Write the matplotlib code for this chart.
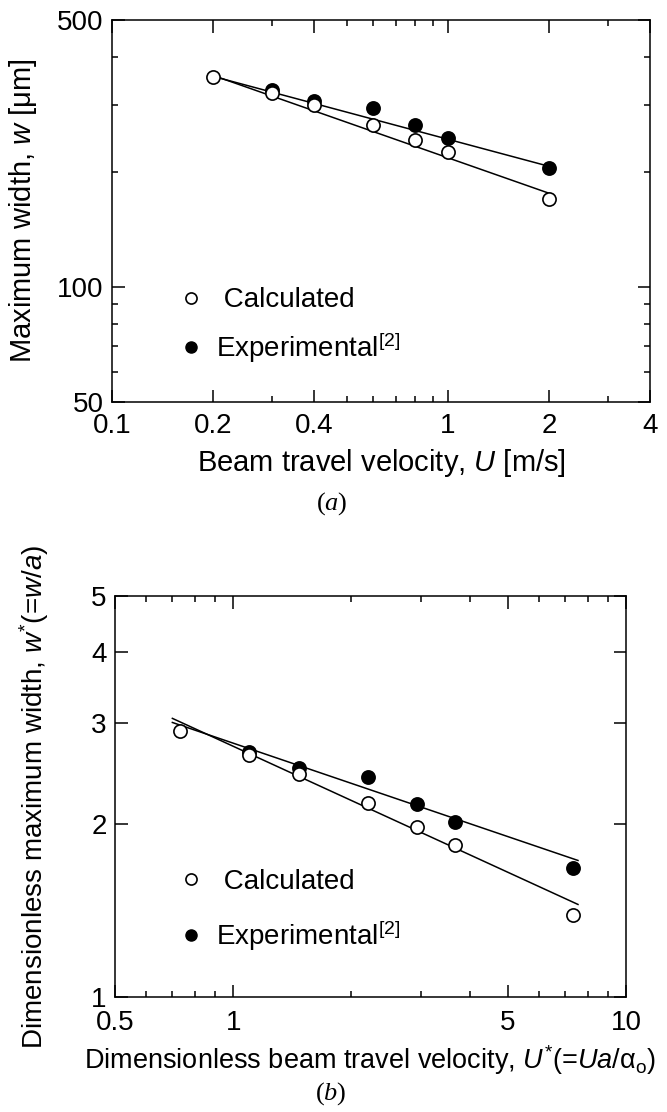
import matplotlib
matplotlib.use('Agg')
import matplotlib.pyplot as plt
from matplotlib.lines import Line2D
from matplotlib.ticker import FixedLocator, FixedFormatter, NullFormatter

# (a) dimensional results
u = [0.2, 0.3, 0.4, 0.6, 0.8, 1.0, 2.0]
w_calc = [355, 323, 299, 265, 242, 225, 170]
u_exp = [0.3, 0.4, 0.6, 0.8, 1.0, 2.0]
w_exp = [327, 307, 295, 265, 246, 205]
u_fit = [0.2, 2.0]
w_fit_calc = [358, 176]
w_fit_exp = [356, 207]

# (b) dimensionless results
us = [0.734, 1.10, 1.47, 2.20, 2.94, 3.67, 7.34]
ws_calc = [2.91, 2.64, 2.45, 2.18, 1.98, 1.84, 1.39]
us_exp = [1.10, 1.47, 2.20, 2.94, 3.67, 7.34]
ws_exp = [2.67, 2.51, 2.42, 2.17, 2.02, 1.68]
us_fit = [0.70, 7.55]
ws_fit_calc = [3.06, 1.45]
ws_fit_exp = [3.01, 1.73]

# ticks
xmajor_a = [0.1, 0.2, 0.4, 1, 2, 4]
xlabels_a = ['0.1', '0.2', '0.4', '1', '2', '4']
xminor_a = [0.3, 0.5, 0.6, 0.7, 0.8, 0.9, 3]
ymajor_a = [50, 100, 500]
ylabels_a = ['50', '100', '500']
yminor_a = [60, 70, 80, 90, 200, 300, 400]
xmajor_b = [0.5, 1, 5, 10]
xlabels_b = ['0.5', '1', '5', '10']
xminor_b = [0.6, 0.7, 0.8, 0.9, 2, 3, 4, 6, 7, 8, 9]
ymajor_b = [1, 2, 3, 4, 5]
ylabels_b = ['1', '2', '3', '4', '5']

plt.rcParams['font.family'] = ['Liberation Sans', 'DejaVu Sans']
plt.rcParams['mathtext.fontset'] = 'custom'
plt.rcParams['mathtext.rm'] = 'Liberation Sans'
plt.rcParams['mathtext.it'] = 'Liberation Sans:italic'
plt.rcParams['mathtext.bf'] = 'Liberation Serif:italic'
plt.rcParams['axes.linewidth'] = 1.1

FS = 20


def style(ax, xmaj, xlab, xmin, ymaj, ylab, ymin, xpad):
    ax.set_xscale('log')
    ax.set_yscale('log')
    ax.xaxis.set_major_locator(FixedLocator(xmaj))
    ax.xaxis.set_major_formatter(FixedFormatter(xlab))
    ax.xaxis.set_minor_locator(FixedLocator(xmin))
    ax.xaxis.set_minor_formatter(NullFormatter())
    ax.yaxis.set_major_locator(FixedLocator(ymaj))
    ax.yaxis.set_major_formatter(FixedFormatter(ylab))
    ax.yaxis.set_minor_locator(FixedLocator(ymin))
    ax.yaxis.set_minor_formatter(NullFormatter())
    ax.tick_params(which='both', direction='in', top=True, right=True,
                   labelsize=FS, width=1.1)
    ax.tick_params(which='major', length=9)
    ax.tick_params(which='minor', length=4.5)
    ax.tick_params(axis='x', which='major', pad=xpad)
    ax.tick_params(axis='y', which='major', pad=6)


def draw(ax, x, yc, xe, ye, xf, yfc, yfe):
    ax.plot(xf, yfc, color='black', lw=1.1)
    ax.plot(xf, yfe, color='black', lw=1.1)
    ax.plot(xe, ye, 'o', ms=9.5, mfc='black', mec='black', mew=1.2)
    ax.plot(x, yc, 'o', ms=9.5, mfc='white', mec='black', mew=1.2)


def legend(ax, anchor, spacing):
    h = [Line2D([], [], ls='none', marker='o', ms=8, mfc='white', mec='black', mew=1.2),
         Line2D([], [], ls='none', marker='o', ms=8, mfc='black', mec='black')]
    ax.legend(h, [' Calculated', r'Experimental$^{[2]}$'], loc='upper left',
              bbox_to_anchor=anchor, frameon=False, fontsize=FS,
              handlelength=0.6, handletextpad=0.6, labelspacing=spacing,
              borderaxespad=0, borderpad=0)


fig = plt.figure(figsize=(6.67, 11.12), dpi=100)

ax1 = fig.add_axes([0.168, 0.6385, 0.8066, 0.3435])
draw(ax1, u, w_calc, u_exp, w_exp, u_fit, w_fit_calc, w_fit_exp)
style(ax1, xmajor_a, xlabels_a, xminor_a, ymajor_a, ylabels_a, yminor_a, 8)
ax1.set_xlim(0.1, 4)
ax1.set_ylim(50, 500)
ax1.set_xlabel(r'Beam travel velocity, $U$ [m/s]', fontsize=21, labelpad=6)
ax1.set_ylabel(r'Maximum width, $w$ [μm]', fontsize=21)
ax1.yaxis.set_label_coords(-0.135, 0.5)
legend(ax1, (0.132, 0.30), 0.6)

ax2 = fig.add_axes([0.1724, 0.1034, 0.766, 0.3606])
draw(ax2, us, ws_calc, us_exp, ws_exp, us_fit, ws_fit_calc, ws_fit_exp)
style(ax2, xmajor_b, xlabels_b, xminor_b, ymajor_b, ylabels_b, [], 9.5)
ax2.set_xlim(0.5, 10)
ax2.set_ylim(1, 5)
ax2.set_xlabel(r'Dimensionless beam travel velocity, $U^{*}$(=$Ua$/α$_{\rm o}$)',
               fontsize=19.5, labelpad=5)
ax2.set_ylabel(r'Dimensionless maximum width, $w^{*}$(=$w$/$a$)', fontsize=20)
ax2.yaxis.set_label_coords(-0.126, 0.5)
legend(ax2, (0.133, 0.32), 0.85)

fig.text(0.498, 0.547, r'($\mathbf{a}$)', fontsize=19, family='Liberation Serif',
         ha='center', va='center')
fig.text(0.496, 0.017, r'($\mathbf{b}$)', fontsize=19, family='Liberation Serif',
         ha='center', va='center')

fig.savefig('out.png', dpi=100)
